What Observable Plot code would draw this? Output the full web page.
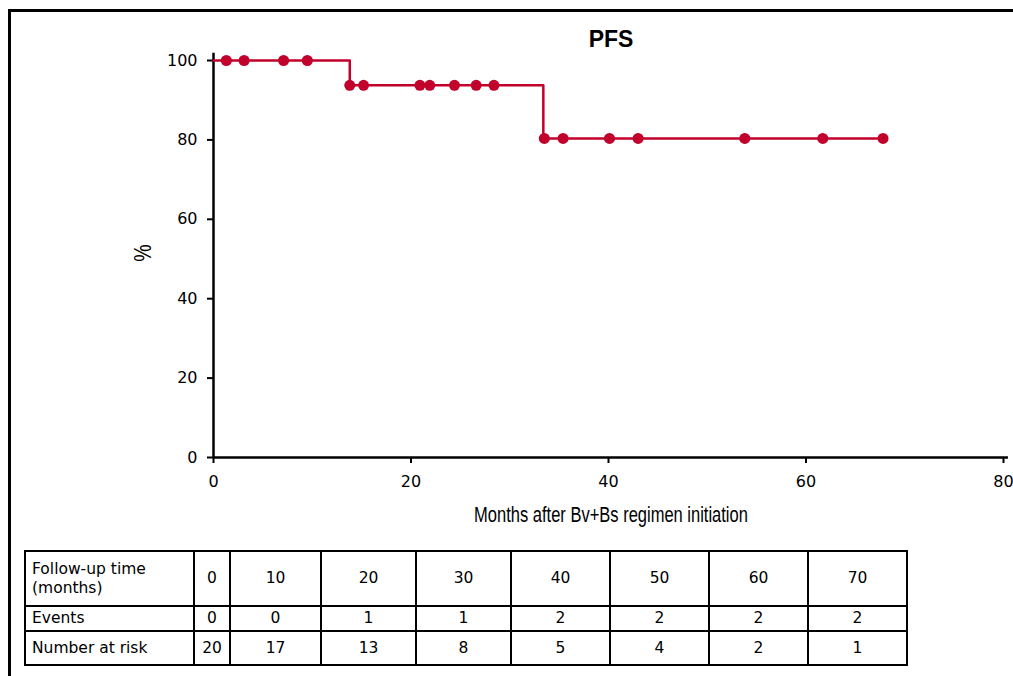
<!DOCTYPE html>
<html>
<head>
<meta charset="utf-8">
<script src="https://cdn.jsdelivr.net/npm/d3@7"></script>
<script src="https://cdn.jsdelivr.net/npm/@observablehq/plot@0.6"></script>
<style>
  html, body { margin: 0; padding: 0; background: #fff; }
  #wrap { position: relative; width: 1013px; height: 676px; overflow: hidden; font-family: "DejaVu Sans", sans-serif; }
  #border { position: absolute; left: 8px; top: 9px; width: 1100px; height: 800px; border-left: 3px solid #000; border-top: 3px solid #000; }
  #chart { position: absolute; left: 0; top: 0; }
  .lbl { position: absolute; color: #000; white-space: nowrap; }
  #title { left: 611px; top: 26px; transform: translateX(-50%); font-weight: bold; font-size: 23px; font-family: "Liberation Sans", Arial, sans-serif; }
  #xlabel { left: 611px; top: 502px; transform: translateX(-50%) scaleX(0.75); font-size: 22px; font-family: "Liberation Sans Narrow", "Liberation Sans", sans-serif; }
  #ylabel { left: 143px; top: 253px; transform: translate(-50%, -50%) rotate(-90deg) scaleX(0.85); font-size: 23px; font-family: "Liberation Sans", sans-serif; }
  #risk { position: absolute; left: 24px; top: 550px; border-collapse: collapse; table-layout: fixed; width: 884px; font-size: 15.5px; }
  #risk td { border: 2px solid #000; padding: 0; text-align: center; line-height: 19px; overflow: hidden; white-space: nowrap; }
  #risk td.h { text-align: left; padding-left: 6px; }
</style>
</head>
<body>
<div id="wrap">
  <div id="border"></div>
  <div id="chart"></div>
  <div class="lbl" id="title">PFS</div>
  <div class="lbl" id="xlabel">Months after Bv+Bs regimen initiation</div>
  <div class="lbl" id="ylabel">%</div>
  <table id="risk"><colgroup id="cg"></colgroup></table>
</div>
<script>
// Kaplan-Meier step points (month, survival %)
const stepMonths = [0, 13.8, 33.4, 67.8];
const stepSurv = [100, 93.75, 80.36, 80.36];
// Censor / event marks
const dotMonths = [1.3, 3.1, 7.1, 9.5, 13.8, 15.2, 20.9, 21.9, 24.4, 26.6, 28.4, 33.5, 35.4, 40.1, 43.0, 53.8, 61.7, 67.8];
const dotSurv = [100, 100, 100, 100, 93.75, 93.75, 93.75, 93.75, 93.75, 93.75, 93.75, 80.36, 80.36, 80.36, 80.36, 80.36, 80.36, 80.36];
const xTicks = [0, 20, 40, 60, 80];
const yTicks = [0, 20, 40, 60, 80, 100];

// Risk table
const rowLabels = ["Follow-up time<br>(months)", "Events", "Number at risk"];
const followUp = [0, 10, 20, 30, 40, 50, 60, 70];
const events = [0, 0, 1, 1, 2, 2, 2, 2];
const atRisk = [20, 17, 13, 8, 5, 4, 2, 1];

const red = "#c1002b";
const steps = stepMonths.map((m, i) => ({m, s: stepSurv[i]}));
const dots = dotMonths.map((m, i) => ({m, s: dotSurv[i]}));

const plot = Plot.plot({
  width: 1013,
  height: 540,
  marginLeft: 213,
  marginRight: 10,
  marginTop: 60,
  marginBottom: 83,
  style: {fontFamily: "DejaVu Sans, sans-serif", fontSize: "16px", color: "#000", background: "transparent"},
  x: {domain: [0, 80]},
  y: {domain: [0, 100]},
  marks: [
    Plot.axisX({ticks: xTicks, tickSize: 6, tickPadding: 12, tickFormat: d => d, label: null, strokeWidth: 2, fontSize: 16}),
    Plot.axisY({ticks: yTicks, tickSize: 6, tickPadding: 10, tickFormat: d => d, label: null, strokeWidth: 2, fontSize: 16}),
    Plot.ruleY([0], {x1: 0, x2: 80.5, stroke: "#000", strokeWidth: 2.5, clip: false}),
    Plot.ruleX([0], {y1: 0, y2: 101.8, stroke: "#000", strokeWidth: 2.5, clip: false}),
    Plot.line(steps, {x: "m", y: "s", curve: "step-after", stroke: red, strokeWidth: 2.5}),
    Plot.dot(dots, {x: "m", y: "s", r: 5.5, fill: red, stroke: "none"})
  ]
});
document.getElementById("chart").appendChild(plot);

// Build table
const colWidths = [169, 36, 91, 95, 95, 99, 99, 99, 99];
const rowHeights = [55, 25, 34];
const table = document.getElementById("risk");
const cg = document.getElementById("cg");
colWidths.forEach(w => {
  const c = document.createElement("col");
  c.style.width = w + "px";
  cg.appendChild(c);
});
const cols = [followUp, events, atRisk];
rowLabels.forEach((lab, r) => {
  const tr = document.createElement("tr");
  tr.style.height = rowHeights[r] + "px";
  const th = document.createElement("td");
  th.className = "h";
  th.innerHTML = lab;
  tr.appendChild(th);
  cols[r].forEach(v => {
    const td = document.createElement("td");
    td.textContent = v;
    tr.appendChild(td);
  });
  table.appendChild(tr);
});
</script>
</body>
</html>
